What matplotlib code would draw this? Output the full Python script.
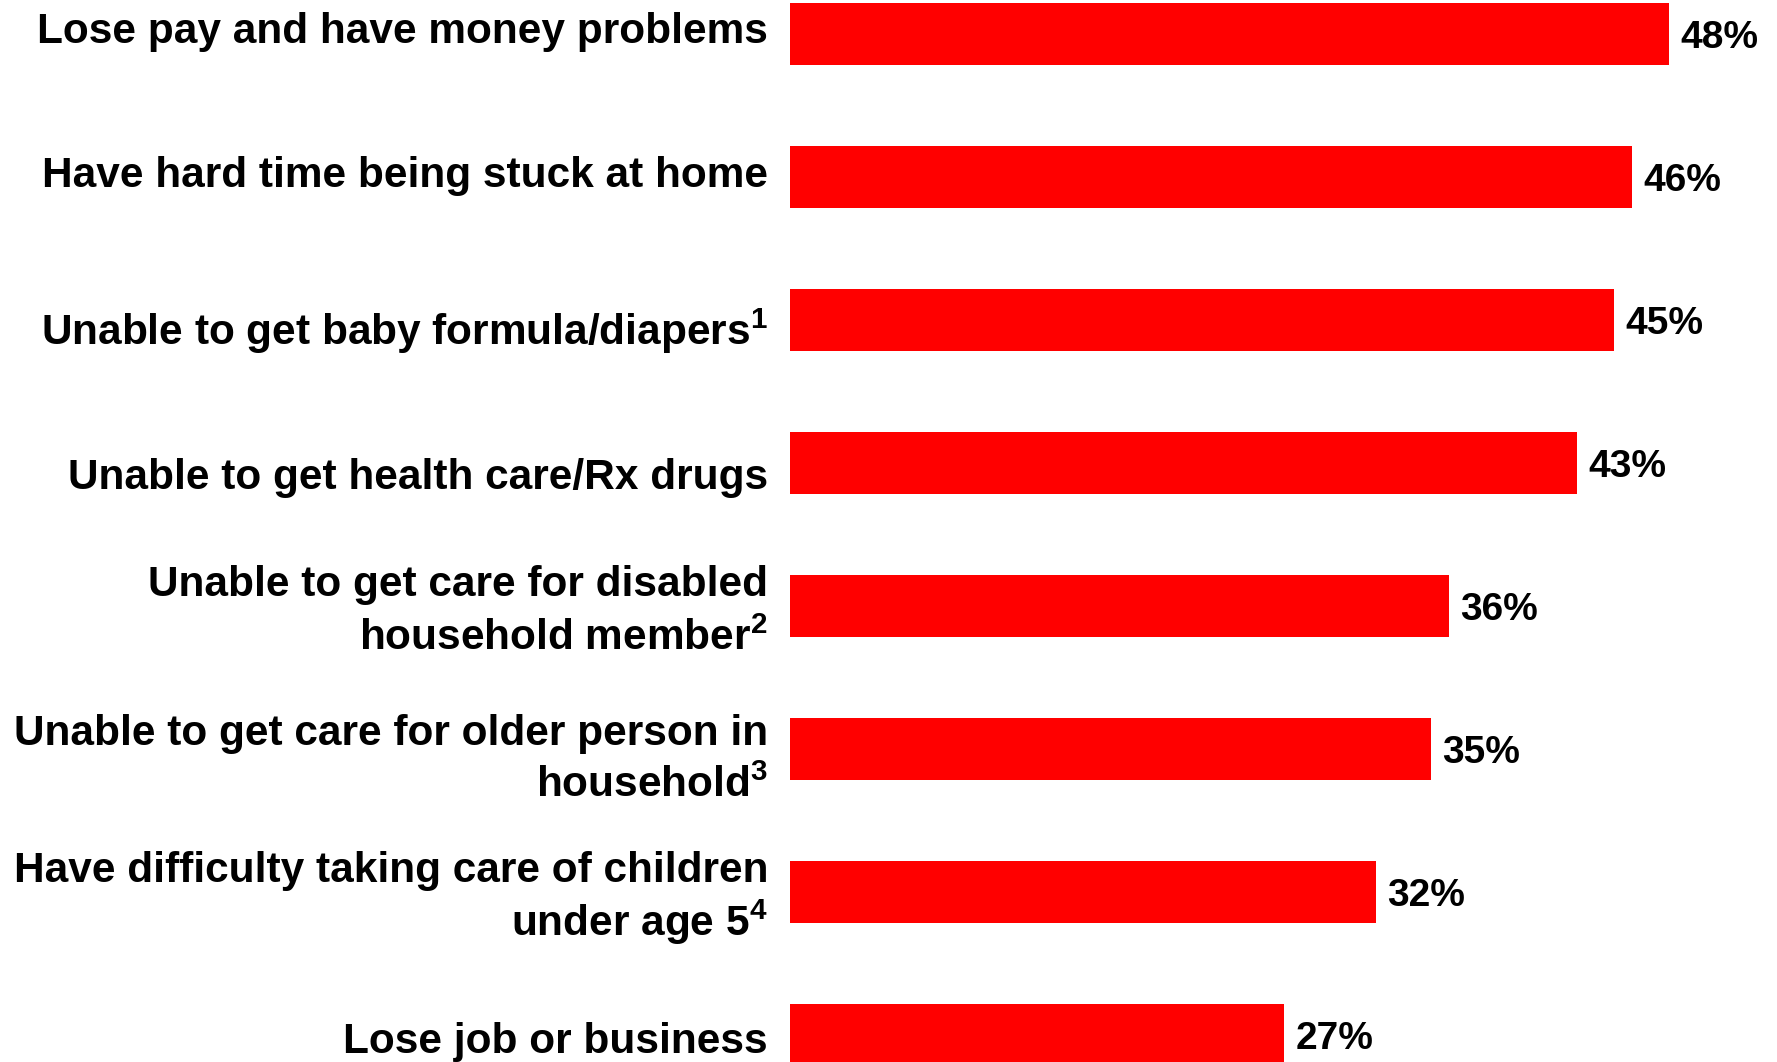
import matplotlib
matplotlib.use("Agg")
import matplotlib.pyplot as plt

categories = [
    "Lose pay and have money problems",
    "Have hard time being stuck at home",
    "Unable to get baby formula/diapers$^{1}$",
    "Unable to get health care/Rx drugs",
    "Unable to get care for disabled\nhousehold member$^{2}$",
    "Unable to get care for older person in\nhousehold$^{3}$",
    "Have difficulty taking care of children\nunder age 5$^{4}$",
    "Lose job or business",
]
values = [48, 46, 45, 43, 36, 35, 32, 27]
value_labels = ["48%", "46%", "45%", "43%", "36%", "35%", "32%", "27%"]

# style tweaks for the category labels: vertical nudge (px, + = down) and line spacing
label_nudge = [-2, -1, 11, 15, 6, 11, 7, 7]
label_linespacing = [1.32, 1.32, 1.32, 1.32, 1.42, 1.40, 1.16, 1.32]

plt.rcParams['font.family'] = ['Liberation Sans', 'DejaVu Sans']
plt.rcParams['mathtext.fontset'] = 'custom'
plt.rcParams['mathtext.rm'] = 'Liberation Sans:bold'
plt.rcParams['mathtext.it'] = 'Liberation Sans:bold'
plt.rcParams['mathtext.bf'] = 'Liberation Sans:bold'
plt.rcParams['mathtext.default'] = 'bf'

W, H = 1777, 1062
fig = plt.figure(figsize=(W / 100, H / 100), dpi=100)
ax = fig.add_axes([790 / W, 0, (W - 790) / W, 1])

ypos = list(range(len(categories)))
ax.barh(ypos, values, height=0.43, color="#ff0000", edgecolor="none")

ax.set_xlim(0, (W - 790) / 18.31)
ax.set_ylim((H - 34) / 143, -34 / 143)
ax.axis("off")

for y, v, lab, cat, nd, ls in zip(ypos, values, value_labels, categories,
                                  label_nudge, label_linespacing):
    ax.annotate(lab, xy=(v, y), xytext=(11, -4), textcoords="offset pixels",
                ha="left", va="center", fontsize=28, fontweight="bold", color="black")
    ax.annotate(cat, xy=(0, y), xytext=(-22, -nd), textcoords="offset pixels",
                ha="right", va="center", fontsize=30.5, fontweight="bold", color="black",
                multialignment="right", linespacing=ls, annotation_clip=False)

fig.savefig("out.png", dpi=100, facecolor="white")
